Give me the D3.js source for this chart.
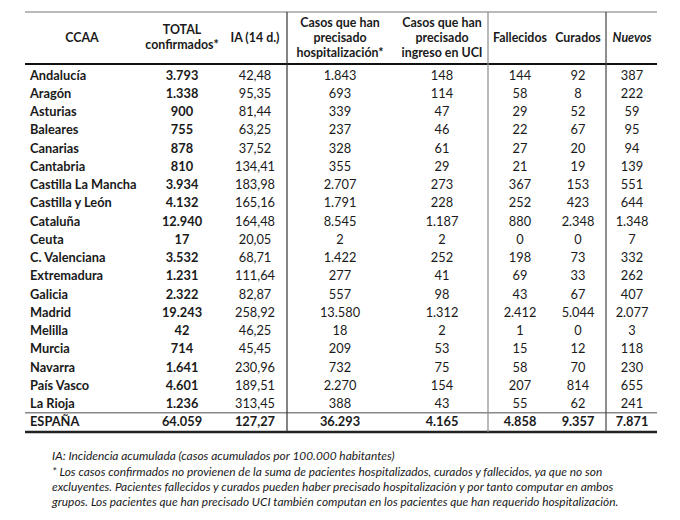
<!DOCTYPE html>
<html><head><meta charset="utf-8">
<script src="https://cdn.jsdelivr.net/npm/d3@7/dist/d3.min.js"></script>
<style>body{margin:0;background:#fff}svg{display:block}</style>
</head><body>
<svg id="c" width="680" height="520"></svg>
<script>
const regions = ["Andalucía","Aragón","Asturias","Baleares","Canarias","Cantabria","Castilla La Mancha","Castilla y León","Cataluña","Ceuta","C. Valenciana","Extremadura","Galicia","Madrid","Melilla","Murcia","Navarra","País Vasco","La Rioja","ESPAÑA"];
const totalConfirmados = ["3.793","1.338","900","755","878","810","3.934","4.132","12.940","17","3.532","1.231","2.322","19.243","42","714","1.641","4.601","1.236","64.059"];
const ia14 = ["42,48","95,35","81,44","63,25","37,52","134,41","183,98","165,16","164,48","20,05","68,71","111,64","82,87","258,92","46,25","45,45","230,96","189,51","313,45","127,27"];
const hospitalizacion = ["1.843","693","339","237","328","355","2.707","1.791","8.545","2","1.422","277","557","13.580","18","209","732","2.270","388","36.293"];
const uci = ["148","114","47","46","61","29","273","228","1.187","2","252","41","98","1.312","2","53","75","154","43","4.165"];
const fallecidos = ["144","58","29","22","27","21","367","252","880","0","198","69","43","2.412","1","15","58","207","55","4.858"];
const curados = ["92","8","52","67","20","19","153","423","2.348","0","73","33","67","5.044","0","12","70","814","62","9.357"];
const nuevos = ["387","222","59","95","94","139","551","644","1.348","7","332","262","407","2.077","3","118","230","655","241","7.871"];
const headers = [["CCAA"],["TOTAL","confirmados*"],["IA (14 d.)"],["Casos que han","precisado","hospitalización*"],["Casos que han","precisado","ingreso en UCI"],["Fallecidos"],["Curados"],["Nuevos"]];
const footnotes = ["IA: Incidencia acumulada (casos acumulados por 100.000 habitantes)",
"* Los casos confirmados no provienen de la suma de pacientes hospitalizados, curados y fallecidos, ya que no son",
"excluyentes. Pacientes fallecidos y curados pueden haber precisado hospitalización y por tanto computar en ambos",
"grupos. Los pacientes que han precisado UCI también computan en los pacientes que han requerido hospitalización."];

const columns = [regions,totalConfirmados,ia14,hospitalizacion,uci,fallecidos,curados,nuevos];
const colX = [82,182,255,340,442,520,578,632];
const svg = d3.select("#c");
const font = "Lato, 'Open Sans', sans-serif";
const ink = "#1a1a1a";
const L = 25, R = 657;

const y = d3.scaleBand().domain(d3.range(regions.length)).range([66, 431]).paddingInner(0);

// header
const hdr = svg.append("g").attr("font-family",font).attr("font-weight","bold").attr("font-size",12.4).attr("fill",ink).attr("text-anchor","middle");
headers.forEach((lines,i)=>{
  const lh = 15, cy = 37.5;
  const y0 = cy - (lines.length-1)*lh/2;
  lines.forEach((t,j)=>{
    hdr.append("text").attr("x",colX[i]).attr("y",y0+j*lh).attr("dy","0.35em")
      .attr("font-style", i===7?"italic":"normal").text(t);
  });
});

// body
const body = svg.append("g").attr("font-family",font).attr("font-size",12.8).attr("fill",ink);
columns.forEach((col,ci)=>{
  body.selectAll(null).data(col).enter().append("text")
    .attr("x", ci===0 ? 30 : colX[ci])
    .attr("y",(d,i)=>y(i)+y.bandwidth()/2).attr("dy","0.35em")
    .attr("text-anchor", ci===0?"start":"middle")
    .attr("font-weight",(d,i)=> (ci<=1 || i===regions.length-1) ? "bold":"normal")
    .text(d=>d);
});

// lines
const yTop = 12, hb = 64, tl = y(regions.length-1), bot = 432;
svg.append("line").attr("x1",L).attr("x2",R).attr("y1",yTop).attr("y2",yTop).attr("stroke","#777").attr("stroke-width",1.2);
svg.append("line").attr("x1",L).attr("x2",R).attr("y1",hb).attr("y2",hb).attr("stroke","#111").attr("stroke-width",2.2);
svg.append("line").attr("x1",L).attr("x2",R).attr("y1",tl).attr("y2",tl).attr("stroke","#888").attr("stroke-width",1.3);
svg.append("line").attr("x1",L).attr("x2",R).attr("y1",bot).attr("y2",bot).attr("stroke","#222").attr("stroke-width",2.4);
[[287,"#333"],[488,"#8a8a8a"],[606,"#444"]].forEach(([x,c])=>{
  svg.append("line").attr("x1",x).attr("x2",x).attr("y1",yTop).attr("y2",bot).attr("stroke",c).attr("stroke-width",1.2);
});

// footnotes
const fn = svg.append("g").attr("font-family",font).attr("font-size",11.9).attr("font-style","italic").attr("fill",ink);
footnotes.forEach((t,i)=>{
  fn.append("text").attr("x",52).attr("y",[456,472,487,502][i]).attr("dy","0.35em").text(t);
});
</script>
</body></html>
